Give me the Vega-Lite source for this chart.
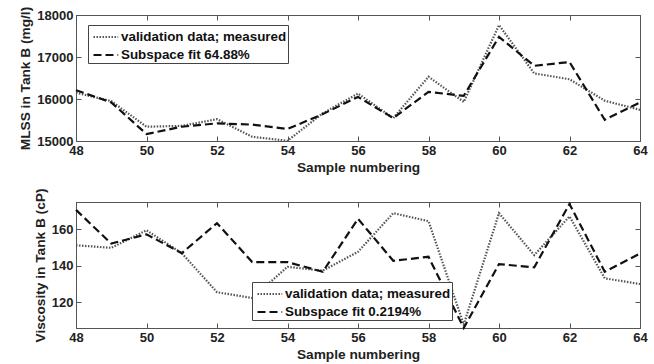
{
  "$schema": "https://vega.github.io/schema/vega-lite/v6.json",
  "padding": {"left": 18, "top": 5, "right": 10, "bottom": 0},
  "spacing": 12,
  "config": {
    "font": "Liberation Sans",
    "view": {"stroke": "#555", "strokeWidth": 1},
    "axis": {
      "grid": false,
      "labelFont": "Liberation Sans",
      "labelFontWeight": "bold",
      "labelFontSize": 13,
      "labelColor": "#222",
      "labelFlush": false,
      "titleFont": "Liberation Sans",
      "titleFontWeight": "bold",
      "titleFontSize": 13.7,
      "titleColor": "#222",
      "domainColor": "#555",
      "tickColor": "#555",
      "tickSize": -5,
      "labelPadding": 8
    },
    "legend": {
      "labelFont": "Liberation Sans",
      "labelFontWeight": "bold",
      "labelFontSize": 13.4,
      "labelColor": "#111",
      "labelLimit": 400
    }
  },
  "vconcat": [
    {
      "width": 564,
      "height": 126,
      "data": {"values": [
        {"x": 48, "y": 16150, "series": "validation data; measured"},
        {"x": 49, "y": 15950, "series": "validation data; measured"},
        {"x": 50, "y": 15340, "series": "validation data; measured"},
        {"x": 51, "y": 15360, "series": "validation data; measured"},
        {"x": 52, "y": 15520, "series": "validation data; measured"},
        {"x": 53, "y": 15100, "series": "validation data; measured"},
        {"x": 54, "y": 15005, "series": "validation data; measured"},
        {"x": 55, "y": 15660, "series": "validation data; measured"},
        {"x": 56, "y": 16130, "series": "validation data; measured"},
        {"x": 57, "y": 15545, "series": "validation data; measured"},
        {"x": 58, "y": 16530, "series": "validation data; measured"},
        {"x": 59, "y": 15930, "series": "validation data; measured"},
        {"x": 60, "y": 17760, "series": "validation data; measured"},
        {"x": 61, "y": 16610, "series": "validation data; measured"},
        {"x": 62, "y": 16470, "series": "validation data; measured"},
        {"x": 63, "y": 15960, "series": "validation data; measured"},
        {"x": 64, "y": 15740, "series": "validation data; measured"},
        {"x": 48, "y": 16210, "series": "Subspace fit 64.88%"},
        {"x": 49, "y": 15920, "series": "Subspace fit 64.88%"},
        {"x": 50, "y": 15165, "series": "Subspace fit 64.88%"},
        {"x": 51, "y": 15340, "series": "Subspace fit 64.88%"},
        {"x": 52, "y": 15420, "series": "Subspace fit 64.88%"},
        {"x": 53, "y": 15390, "series": "Subspace fit 64.88%"},
        {"x": 54, "y": 15285, "series": "Subspace fit 64.88%"},
        {"x": 55, "y": 15640, "series": "Subspace fit 64.88%"},
        {"x": 56, "y": 16050, "series": "Subspace fit 64.88%"},
        {"x": 57, "y": 15545, "series": "Subspace fit 64.88%"},
        {"x": 58, "y": 16170, "series": "Subspace fit 64.88%"},
        {"x": 59, "y": 16075, "series": "Subspace fit 64.88%"},
        {"x": 60, "y": 17480, "series": "Subspace fit 64.88%"},
        {"x": 61, "y": 16790, "series": "Subspace fit 64.88%"},
        {"x": 62, "y": 16880, "series": "Subspace fit 64.88%"},
        {"x": 63, "y": 15505, "series": "Subspace fit 64.88%"},
        {"x": 64, "y": 15920, "series": "Subspace fit 64.88%"}
      ]},
      "layer": [
        {
          "mark": {"type": "line", "strokeWidth": 2.2},
          "encoding": {
            "x": {"field": "x", "type": "quantitative", "scale": {"domain": [48, 64], "nice": false},
                  "axis": {"values": [48, 50, 52, 54, 56, 58, 60, 62, 64], "title": "Sample numbering", "titlePadding": 3}},
            "y": {"field": "y", "type": "quantitative", "scale": {"domain": [15000, 18000], "nice": false},
                  "axis": {"values": [15000, 16000, 17000, 18000], "format": "d", "title": "MLSS in Tank B (mg/l)", "titlePadding": 4}},
            "color": {"field": "series", "type": "nominal",
                      "scale": {"domain": ["validation data; measured", "Subspace fit 64.88%"], "range": ["#555", "#111"]},
                      "legend": {"title": null, "orient": "none", "legendX": 12, "legendY": 10, "symbolType": "M-1,0L1.6,0", "symbolSize": 361, "symbolOffset": 3, "symbolStrokeWidth": 2.2, "strokeColor": "#444", "fillColor": "white", "padding": 1, "rowPadding": 0, "labelOffset": 7}},
            "strokeDash": {"field": "series", "type": "nominal",
                      "scale": {"domain": ["validation data; measured", "Subspace fit 64.88%"], "range": [[1.5, 1.5], [8, 4]]},
                      "legend": {"title": null, "orient": "none", "legendX": 12, "legendY": 10, "symbolType": "M-1,0L1.6,0", "symbolSize": 361, "symbolOffset": 3, "symbolStrokeWidth": 2.2, "strokeColor": "#444", "fillColor": "white", "padding": 1, "rowPadding": 0, "labelOffset": 7}}
          }
        },
        {
          "mark": {"type": "line", "opacity": 0},
          "encoding": {
            "x": {"field": "x", "type": "quantitative", "scale": {"domain": [48, 64], "nice": false},
                  "axis": {"orient": "top", "values": [48, 50, 52, 54, 56, 58, 60, 62, 64], "labels": false, "title": null}},
            "y": {"field": "y", "type": "quantitative", "scale": {"domain": [15000, 18000], "nice": false},
                  "axis": {"orient": "right", "values": [15000, 16000, 17000, 18000], "labels": false, "title": null}}
          }
        }
      ],
      "resolve": {"axis": {"x": "independent", "y": "independent"}}
    },
    {
      "width": 564,
      "height": 126,
      "data": {"values": [
        {"x": 48, "y": 151.3, "series": "validation data; measured"},
        {"x": 49, "y": 149.9, "series": "validation data; measured"},
        {"x": 50, "y": 159.5, "series": "validation data; measured"},
        {"x": 51, "y": 147, "series": "validation data; measured"},
        {"x": 52, "y": 125.6, "series": "validation data; measured"},
        {"x": 53, "y": 122.4, "series": "validation data; measured"},
        {"x": 54, "y": 139.5, "series": "validation data; measured"},
        {"x": 55, "y": 137.4, "series": "validation data; measured"},
        {"x": 56, "y": 147.7, "series": "validation data; measured"},
        {"x": 57, "y": 168.9, "series": "validation data; measured"},
        {"x": 58, "y": 164.5, "series": "validation data; measured"},
        {"x": 59, "y": 107.9, "series": "validation data; measured"},
        {"x": 60, "y": 168.9, "series": "validation data; measured"},
        {"x": 61, "y": 145.9, "series": "validation data; measured"},
        {"x": 62, "y": 167.1, "series": "validation data; measured"},
        {"x": 63, "y": 133.2, "series": "validation data; measured"},
        {"x": 64, "y": 130.1, "series": "validation data; measured"},
        {"x": 48, "y": 170.7, "series": "Subspace fit 0.2194%"},
        {"x": 49, "y": 152.2, "series": "Subspace fit 0.2194%"},
        {"x": 50, "y": 157.3, "series": "Subspace fit 0.2194%"},
        {"x": 51, "y": 147, "series": "Subspace fit 0.2194%"},
        {"x": 52, "y": 163.4, "series": "Subspace fit 0.2194%"},
        {"x": 53, "y": 142.1, "series": "Subspace fit 0.2194%"},
        {"x": 54, "y": 142.1, "series": "Subspace fit 0.2194%"},
        {"x": 55, "y": 136.8, "series": "Subspace fit 0.2194%"},
        {"x": 56, "y": 165.8, "series": "Subspace fit 0.2194%"},
        {"x": 57, "y": 142.8, "series": "Subspace fit 0.2194%"},
        {"x": 58, "y": 145, "series": "Subspace fit 0.2194%"},
        {"x": 59, "y": 106, "series": "Subspace fit 0.2194%"},
        {"x": 60, "y": 141, "series": "Subspace fit 0.2194%"},
        {"x": 61, "y": 139.2, "series": "Subspace fit 0.2194%"},
        {"x": 62, "y": 173.9, "series": "Subspace fit 0.2194%"},
        {"x": 63, "y": 136.8, "series": "Subspace fit 0.2194%"},
        {"x": 64, "y": 146.8, "series": "Subspace fit 0.2194%"}
      ]},
      "layer": [
        {
          "mark": {"type": "line", "strokeWidth": 2.2},
          "encoding": {
            "x": {"field": "x", "type": "quantitative", "scale": {"domain": [48, 64], "nice": false},
                  "axis": {"values": [48, 50, 52, 54, 56, 58, 60, 62, 64], "title": "Sample numbering", "titlePadding": 3}},
            "y": {"field": "y", "type": "quantitative", "scale": {"domain": [106, 175], "nice": false, "zero": false},
                  "axis": {"values": [120, 140, 160], "title": "Viscosity in Tank B (cP)", "titlePadding": 4}},
            "color": {"field": "series", "type": "nominal",
                      "scale": {"domain": ["validation data; measured", "Subspace fit 0.2194%"], "range": ["#555", "#111"]},
                      "legend": {"title": null, "orient": "none", "legendX": 176, "legendY": 80, "symbolType": "M-1,0L1.6,0", "symbolSize": 361, "symbolOffset": 3, "symbolStrokeWidth": 2.2, "strokeColor": "#444", "fillColor": "white", "padding": 1, "rowPadding": 0, "labelOffset": 7}},
            "strokeDash": {"field": "series", "type": "nominal",
                      "scale": {"domain": ["validation data; measured", "Subspace fit 0.2194%"], "range": [[1.5, 1.5], [8, 4]]},
                      "legend": {"title": null, "orient": "none", "legendX": 176, "legendY": 80, "symbolType": "M-1,0L1.6,0", "symbolSize": 361, "symbolOffset": 3, "symbolStrokeWidth": 2.2, "strokeColor": "#444", "fillColor": "white", "padding": 1, "rowPadding": 0, "labelOffset": 7}}
          }
        },
        {
          "mark": {"type": "line", "opacity": 0},
          "encoding": {
            "x": {"field": "x", "type": "quantitative", "scale": {"domain": [48, 64], "nice": false},
                  "axis": {"orient": "top", "values": [48, 50, 52, 54, 56, 58, 60, 62, 64], "labels": false, "title": null}},
            "y": {"field": "y", "type": "quantitative", "scale": {"domain": [106, 175], "nice": false, "zero": false},
                  "axis": {"orient": "right", "values": [120, 140, 160], "labels": false, "title": null}}
          }
        }
      ],
      "resolve": {"axis": {"x": "independent", "y": "independent"}}
    }
  ],
  "resolve": {"scale": {"color": "independent", "strokeDash": "independent"}, "legend": {"color": "independent", "strokeDash": "independent"}}
}
